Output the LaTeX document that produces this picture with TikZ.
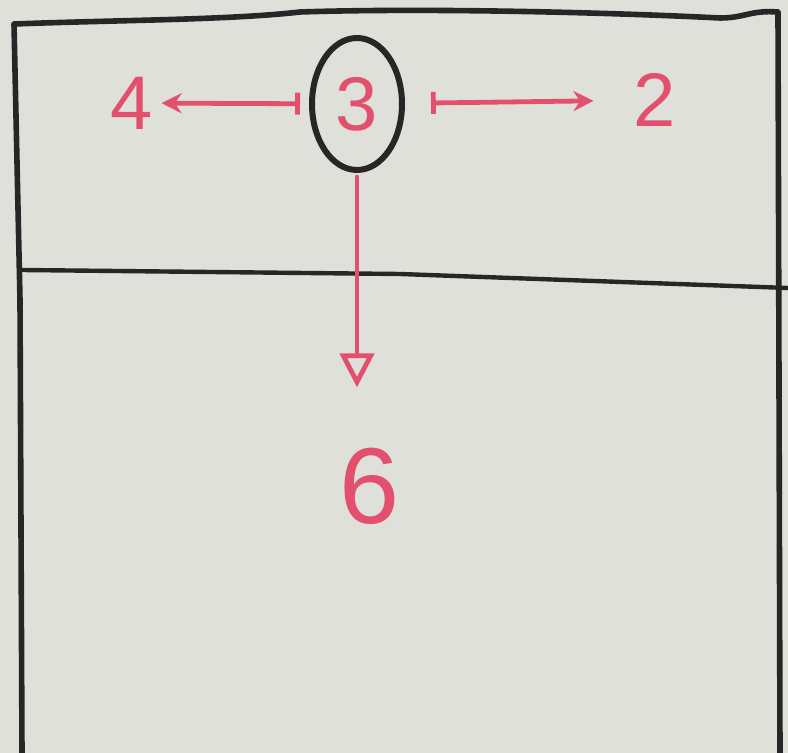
\documentclass[tikz,border=0pt]{standalone}
\usepackage{fontspec}
\setmainfont{Liberation Sans}
\usetikzlibrary{arrows.meta,shapes.geometric}
\definecolor{board}{RGB}{224,224,218}
\definecolor{marker}{RGB}{226,80,110}
\definecolor{ink}{RGB}{38,38,38}
\begin{document}
\begin{tikzpicture}[x=0.5pt,y=-0.5pt,
  digit/.style={text=marker,font=\fontsize{38}{38}\selectfont,inner sep=0pt},
  bigdigit/.style={text=marker,font=\fontsize{54}{54}\selectfont,inner sep=0pt},
  redline/.style={draw=marker,line width=2.4pt,line cap=round},
  frame/.style={draw=ink,line width=2.8pt,line cap=round,line join=round},
  ring/.style={ellipse,draw=ink,line width=3pt,minimum width=45pt,minimum height=66pt,inner sep=0pt}]
\fill[board] (0,0) rectangle (788,753);
\useasboundingbox (0,0) rectangle (788,753);
% frame
\draw[frame] (22,753) -- (20,300) -- (14,24) .. controls (120,20) and (230,20) .. (300,12)
  .. controls (420,8) and (600,12) .. (720,18) .. controls (745,18) and (750,10) .. (778,12)
  -- (780,753);
\draw[draw=ink,line width=2.2pt] (22,270) -- (400,274) -- (788,288);
% nodes
\node[ring,digit] (n3) at (357,104) {3};
\node[digit] (n4) at (132,103) {4};
\node[digit] (n2) at (655,100) {2};
\node[bigdigit] (n6) at (370,486) {6};
% connectors
\draw[redline,{Bar[width=11pt]}-{Stealth[length=10pt,width=10pt]},shorten <=4.5pt,shorten >=4pt] (n3) -- (n4);
\draw[redline,{Bar[width=11pt]}-{Stealth[length=10pt,width=10pt]},shorten <=13pt,shorten >=20pt] (n3) -- (n2);
\draw[redline,-{Triangle[open,length=17pt,width=17pt]},shorten <=2pt,shorten >=30pt] (n3.south) -- (n3.south |- n6.north);
\end{tikzpicture}
\end{document}
